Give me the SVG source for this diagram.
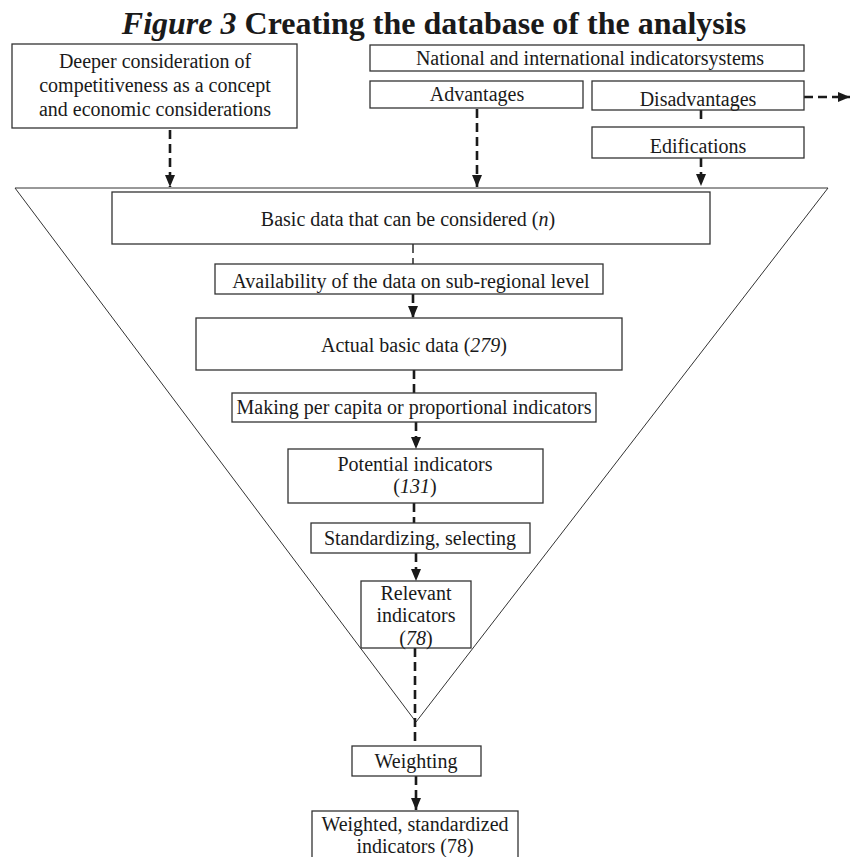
<svg xmlns="http://www.w3.org/2000/svg" width="851" height="857" viewBox="0 0 851 857">
<style>
.box{fill:#fff;stroke:#333;stroke-width:1.3}
.t{font-family:"Liberation Serif","Times New Roman",serif;font-size:20px;fill:#1a1a1a;text-anchor:middle}
.c{fill:none;stroke:#1a1a1a;stroke-width:2.6;stroke-dasharray:9 5}
.thin{fill:none;stroke:#1a1a1a;stroke-width:1.4;stroke-dasharray:9 5}
.tri{fill:none;stroke:#333;stroke-width:1}
</style>
<defs>
<marker id="ah" markerUnits="userSpaceOnUse" markerWidth="12" markerHeight="11" refX="12" refY="5" orient="auto" viewBox="0 0 12 10">
<path d="M0 0 L12 5 L0 10 z" fill="#1a1a1a"/>
</marker>
</defs>
<rect width="851" height="857" fill="#fff"/>
<text class="t" x="434" y="34" font-size="32" font-weight="bold" style="font-size:32px;font-weight:bold"><tspan font-style="italic">Figure 3</tspan> Creating the database of the analysis</text>
<g id="funnel"><path class="tri" d="M15 188 L828 188 L416 722 Z"/></g>
<g id="connectors">
<path class="c" d="M170 130 L170 187" marker-end="url(#ah)"/>
<path class="c" d="M477 109 L477 187" marker-end="url(#ah)"/>
<path class="c" d="M701 110 L701 122"/>
<path class="c" d="M701 158 L701 186" marker-end="url(#ah)"/>
<path class="c" d="M804 97 L850 97" marker-end="url(#ah)"/>
<path class="thin" d="M413 244 L413 264"/>
<path class="c" d="M413 294 L413 318" marker-end="url(#ah)"/>
<path class="c" d="M414 370 L414 393"/>
<path class="c" d="M416 422 L416 449" marker-end="url(#ah)"/>
<path class="c" d="M414 503 L414 523"/>
<path class="c" d="M416 553 L416 581" marker-end="url(#ah)"/>
<path class="c" d="M415 648 L415 746"/>
<path class="c" d="M416 776 L416 810" marker-end="url(#ah)"/>
</g>
<g id="deeper"><rect class="box" x="12" y="44" width="285" height="84"/>
<text class="t" x="155" y="68">Deeper consideration of</text>
<text class="t" x="155" y="92">competitiveness as a concept</text>
<text class="t" x="155" y="116">and economic considerations</text></g>
<g id="national"><rect class="box" x="370" y="45" width="434" height="26"/>
<text class="t" x="590" y="65">National and international indicatorsystems</text></g>
<g id="advantages"><rect class="box" x="370" y="81" width="213" height="27"/>
<text class="t" x="477" y="101">Advantages</text></g>
<g id="disadvantages"><rect class="box" x="592" y="81" width="212" height="29"/>
<text class="t" x="698" y="106">Disadvantages</text></g>
<g id="edifications"><rect class="box" x="592" y="127" width="212" height="31"/>
<text class="t" x="698" y="153">Edifications</text></g>
<g id="basic"><rect class="box" x="112" y="192" width="598" height="52"/>
<text class="t" x="408" y="226">Basic data that can be considered (<tspan font-style="italic">n</tspan>)</text></g>
<g id="availability"><rect class="box" x="215" y="264" width="388" height="30"/>
<text class="t" x="411" y="288">Availability of the data on sub-regional level</text></g>
<g id="actual"><rect class="box" x="196" y="318" width="426" height="52"/>
<text class="t" x="414" y="352">Actual basic data (<tspan font-style="italic">279</tspan>)</text></g>
<g id="making"><rect class="box" x="232" y="393" width="364" height="29"/>
<text class="t" x="414" y="414">Making per capita or proportional indicators</text></g>
<g id="potential"><rect class="box" x="288" y="449" width="255" height="54"/>
<text class="t" x="415" y="471">Potential indicators</text>
<text class="t" x="415" y="493">(<tspan font-style="italic">131</tspan>)</text></g>
<g id="standardizing"><rect class="box" x="311" y="523" width="219" height="30"/>
<text class="t" x="420" y="545">Standardizing, selecting</text></g>
<g id="relevant"><rect class="box" x="361" y="581" width="110" height="67"/>
<text class="t" x="416" y="600">Relevant</text>
<text class="t" x="416" y="622">indicators</text>
<text class="t" x="416" y="645">(<tspan font-style="italic">78</tspan>)</text></g>
<g id="weighting"><rect class="box" x="352" y="746" width="129" height="30"/>
<text class="t" x="416" y="768">Weighting</text></g>
<g id="weighted"><rect class="box" x="312" y="811" width="206" height="60"/>
<text class="t" x="415" y="831">Weighted, standardized</text>
<text class="t" x="415" y="853">indicators (78)</text></g>
</svg>
